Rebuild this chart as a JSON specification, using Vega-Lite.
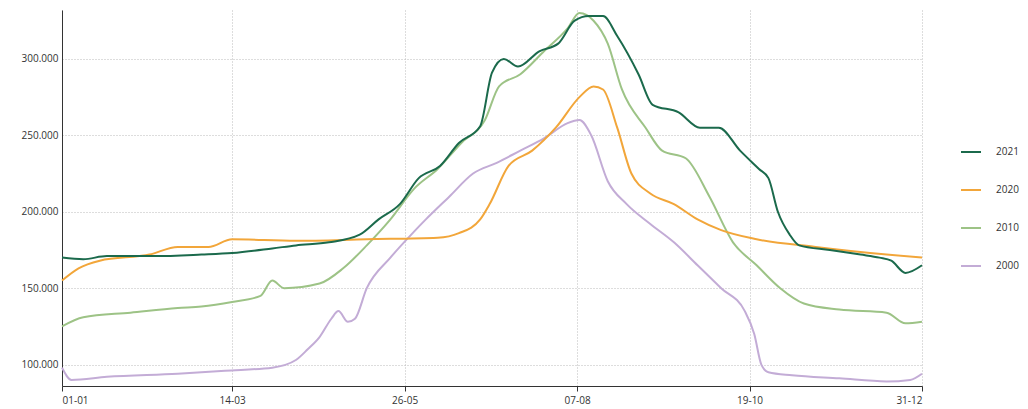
{
  "$schema": "https://vega.github.io/schema/vega-lite/v6.json",
  "width": 860,
  "height": 376,
  "autosize": "none",
  "padding": {"left": 62, "top": 10, "right": 106, "bottom": 23},
  "background": "white",
  "datasets": {
    "y2021": [[1,170],[10,169],[20,171],[40,171],[60,172],[73,173],[90,176],[100,178],[114,180],[127,185],[135,195],[144,205],[152,222],[161,230],[169,245],[178,256],[183,291],[188,300],[194,295],[203,305],[211,310],[218,325],[224,328],[230,328],[236,315],[245,290],[251,270],[262,265],[271,255],[279,255],[288,240],[296,228],[300,222],[304,200],[309,185],[313,178],[326,175],[339,172],[347,170],[352,168],[358,160],[365,165]],
    "y2020": [[1,155],[8,163],[17,168],[38,172],[50,177],[63,177],[73,182],[100,181],[130,182],[160,183],[169,186],[178,195],[182,205],[190,230],[200,240],[210,255],[220,275],[226,282],[230,280],[236,255],[242,225],[250,212],[260,205],[270,195],[280,188],[295,182],[320,177],[350,172],[365,170]],
    "y2010": [[1,125],[10,131],[30,134],[50,137],[60,138],[73,141],[85,145],[90,155],[95,150],[110,153],[120,163],[130,178],[140,195],[150,215],[160,228],[170,245],[180,260],[186,282],[195,290],[205,305],[215,320],[220,330],[226,325],[232,310],[238,280],[248,255],[255,240],[265,235],[275,210],[285,180],[295,165],[305,150],[315,140],[330,136],[350,134],[358,127],[365,128]],
    "y2000": [[1,98],[5,90],[20,92],[50,94],[70,96],[90,98],[100,103],[105,110],[110,118],[115,130],[118,135],[122,128],[125,130],[130,150],[140,170],[150,187],[155,195],[165,210],[175,225],[185,232],[195,240],[205,248],[215,258],[220,260],[225,250],[232,220],[240,205],[250,192],[260,180],[270,165],[280,150],[290,135],[294,120],[297,100],[300,95],[310,93],[330,91],[350,89],[360,90],[365,94]]
  },
  "data": {"name": "y2021"},
  "transform": [
    {"calculate": "'2021'", "as": "series"}
  ],
  "layer": [
    {"data": {"name": "y2000"}, "transform": [{"calculate": "'2000'", "as": "series"}], "mark": {"type": "line", "strokeWidth": 2, "interpolate": "monotone"},
     "encoding": {"x": {"field": "0", "type": "quantitative"}, "y": {"field": "1", "type": "quantitative"}, "color": {"field": "series", "type": "nominal"}}},
    {"data": {"name": "y2010"}, "transform": [{"calculate": "'2010'", "as": "series"}], "mark": {"type": "line", "strokeWidth": 2, "interpolate": "monotone"},
     "encoding": {"x": {"field": "0", "type": "quantitative"}, "y": {"field": "1", "type": "quantitative"}, "color": {"field": "series", "type": "nominal"}}},
    {"data": {"name": "y2020"}, "transform": [{"calculate": "'2020'", "as": "series"}], "mark": {"type": "line", "strokeWidth": 2, "interpolate": "monotone"},
     "encoding": {"x": {"field": "0", "type": "quantitative"}, "y": {"field": "1", "type": "quantitative"}, "color": {"field": "series", "type": "nominal"}}},
    {"mark": {"type": "line", "strokeWidth": 2, "interpolate": "monotone"},
     "encoding": {
       "x": {"field": "0", "type": "quantitative", "title": null, "scale": {"domain": [1, 365], "nice": false},
             "axis": {"values": [1, 73, 146, 219, 292, 365], "grid": true, "gridDash": [1, 2], "gridColor": "#bbb", "domainColor": "#333", "tickColor": "#333",
                      "labelExpr": "{'1':'01-01','73':'14-03','146':'26-05','219':'07-08','292':'19-10','365':'31-12'}[datum.value]", "labelFlush": true}},
       "y": {"field": "1", "type": "quantitative", "title": null, "scale": {"domain": [86, 332], "nice": false, "zero": false},
             "axis": {"values": [100, 150, 200, 250, 300], "grid": true, "gridDash": [1, 2], "gridColor": "#bbb", "domainColor": "#333", "ticks": false,
                      "labelExpr": "datum.value + '.000'"}},
       "color": {"field": "series", "type": "nominal", "title": null,
                 "scale": {"domain": ["2021", "2020", "2010", "2000"], "range": ["#1b6a4c", "#f2a63a", "#9dc386", "#c3acd6"]},
                 "legend": {"orient": "none", "legendX": 898, "legendY": 131, "symbolType": "stroke", "symbolStrokeWidth": 2, "symbolSize": 400, "rowPadding": 22, "labelFontSize": 10, "labelColor": "#333", "labelOffset": 14}}
     }}
  ],
  "config": {
    "font": "Open Sans",
    "view": {"stroke": null},
    "axis": {"labelFontSize": 10, "labelColor": "#333", "labelPadding": 4}
  }
}
